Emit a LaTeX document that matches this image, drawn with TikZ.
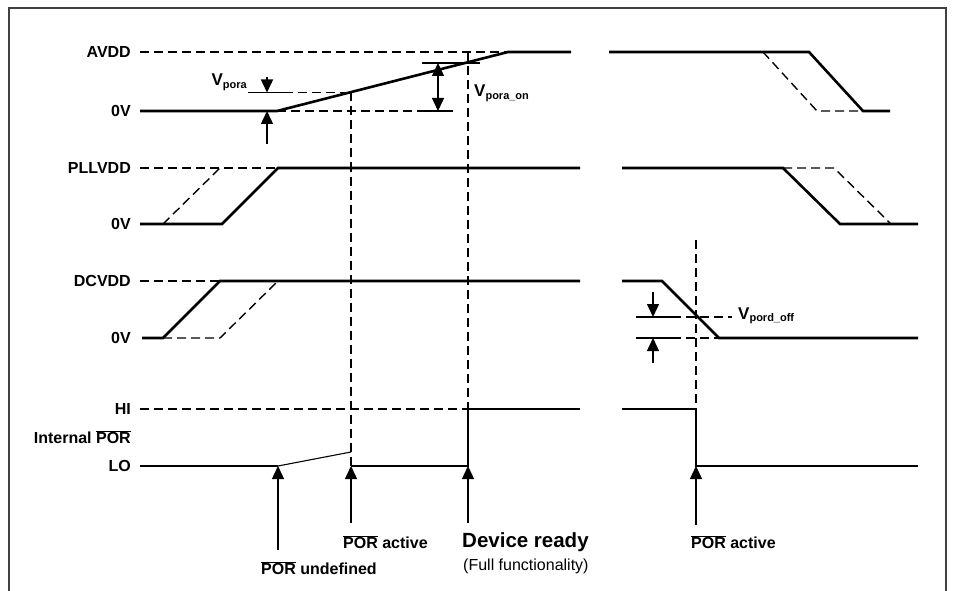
\documentclass[tikz,border=0pt]{standalone}
\usepackage{fontspec}
\setmainfont{Liberation Sans}
\usetikzlibrary{arrows.meta}
\tikzset{
  sig/.style={line width=2.6pt},
  thinsig/.style={line width=1.1pt},
  dsh/.style={line width=1.4pt, dash pattern=on 9pt off 5pt},
  tick/.style={line width=1.4pt},
  arr/.style={line width=1.4pt, -{Triangle[length=13pt,width=12pt]}},
  darr/.style={line width=1.4pt, {Triangle[length=13pt,width=12pt]}-{Triangle[length=13pt,width=12pt]}},
  frame/.style={line width=1.4pt, draw=black!75},
  lbl/.style={font=\bfseries\fontsize{16}{19}\selectfont, anchor=east, inner sep=0pt},
  txt/.style={font=\bfseries\fontsize{16}{19}\selectfont, anchor=west, inner sep=0pt},
  vlbl/.style={font=\bfseries\fontsize{17}{19}\selectfont, inner sep=0pt},
  big/.style={font=\bfseries\fontsize{20.5}{23}\selectfont, anchor=west, inner sep=0pt},
  small/.style={font=\fontsize{16}{19}\selectfont, anchor=west, inner sep=0pt},
}
\newcommand{\subt}[1]{\raisebox{-0.3ex}{\fontsize{11}{12}\selectfont #1}}
\newcommand{\porbar}{$\overline{\mbox{POR}}$}
\begin{document}
\begin{tikzpicture}[x=1pt,y=-1pt]
\useasboundingbox (0,0) rectangle (953,591);
% frame
\draw[frame] (9,591) -- (9,8) -- (946,8) -- (946,591);

% ---------------- AVDD ----------------
\node[lbl] (lavdd) at (131,52) {AVDD};
\node[lbl] (l0a) at (131,111) {0V};
\draw[dsh] (140,52) -- (508,52);
\draw[sig] (140,111) -- (277,111) -- (508,52) -- (571,52);
\draw[sig] (609,52) -- (809,52) -- (863,111) -- (890,111);
\draw[dsh] (763,52) -- (817,111) -- (863,111);
% Vpora
\node[vlbl, anchor=base east] (vpora) at (247,86) {V\subt{pora}};
\draw[tick] (248,92.5) -- (284,92.5);
\draw[dsh] (284,92.5) -- (351,92.5);
\coordinate (pa1) at (267,77);
\coordinate (pa2) at (267,92.5);
\coordinate (pa3) at (267,144);
\coordinate (pa4) at (267,111);
\draw[arr] (pa1) -- (pa2);
\draw[arr] (pa3) -- (pa4);
% Vpora_on
\draw[dsh] (277,111) -- (422,111);
\draw[tick] (422,111) -- (453,111);
\draw[tick] (422,63) -- (480,63);
\coordinate (po1) at (438,63);
\coordinate (po2) at (438,111);
\draw[darr] (po1) -- (po2);
\node[vlbl, anchor=base west] (vporaon) at (474,97) {V\subt{pora\_on}};

% vertical markers
\draw[dsh] (351,92.5) -- (351,466);
\draw[dsh] (468,52) -- (468,409);
\draw[dsh] (696,240) -- (696,409);

% ---------------- PLLVDD ----------------
\node[lbl] (lpll) at (131,168) {PLLVDD};
\node[lbl] (l0p) at (131,224) {0V};
\draw[dsh] (140,168) -- (278,168);
\draw[dsh] (163,224) -- (220,168);
\draw[sig] (140,224) -- (222,224) -- (278,168) -- (580,168);
\draw[sig] (622,168) -- (783,168) -- (840,224) -- (918,224);
\draw[dsh] (783,168) -- (834,168) -- (891,224);

% ---------------- DCVDD ----------------
\node[lbl] (ldc) at (131,281) {DCVDD};
\node[lbl] (l0d) at (131,338) {0V};
\draw[dsh] (140,281) -- (220,281);
\draw[dsh] (163,338) -- (220,338) -- (278,281);
\draw[sig] (142,338) -- (163,338) -- (220,281) -- (580,281);
\draw[sig] (622,281) -- (662,281) -- (719,338) -- (918,338);
% Vpord_off
\draw[tick] (636,317) -- (672,317);
\draw[dsh] (672,317) -- (732,317);
\draw[tick] (636,338) -- (672,338);
\draw[dsh] (672,338) -- (719,338);
\coordinate (pd1) at (653,292);
\coordinate (pd2) at (653,317);
\coordinate (pd3) at (653,363);
\coordinate (pd4) at (653,338);
\draw[arr] (pd1) -- (pd2);
\draw[arr] (pd3) -- (pd4);
\node[vlbl, anchor=base west] (vpord) at (738,319) {V\subt{pord\_off}};

% ---------------- Internal POR ----------------
\node[lbl] (lhi) at (131,409) {HI};
\node[lbl] (lint) at (131,437) {Internal \porbar};
\node[lbl] (llo) at (131,466) {LO};
\draw[dsh] (140,409) -- (468,409);
\draw[sig] (140,466) -- (278,466);
\draw[thinsig] (278,466) -- (351,452);
\draw[sig] (351,466) -- (468,466) -- (468,409) -- (580,409);
\draw[sig] (622,409) -- (696,409) -- (696,466) -- (918,466);

% event arrows
\coordinate (e1t) at (278,466);
\coordinate (e1b) at (278,550);
\coordinate (e2t) at (351,466);
\coordinate (e2b) at (351,523);
\coordinate (e3t) at (468,466);
\coordinate (e3b) at (468,523);
\coordinate (e4t) at (696,466);
\coordinate (e4b) at (696,525);
\draw[arr] (e1b) -- (e1t);
\draw[arr] (e2b) -- (e2t);
\draw[arr] (e3b) -- (e3t);
\draw[arr] (e4b) -- (e4t);

\node[txt] (tund) at (261,568) {\porbar{} undefined};
\node[txt] (tact1) at (343,542) {\porbar{} active};
\node[big] (tready) at (462,542) {Device ready};
\node[small] (tfull) at (463,566) {(Full functionality)};
\node[txt] (tact2) at (691,542) {\porbar{} active};
\end{tikzpicture}
\end{document}
